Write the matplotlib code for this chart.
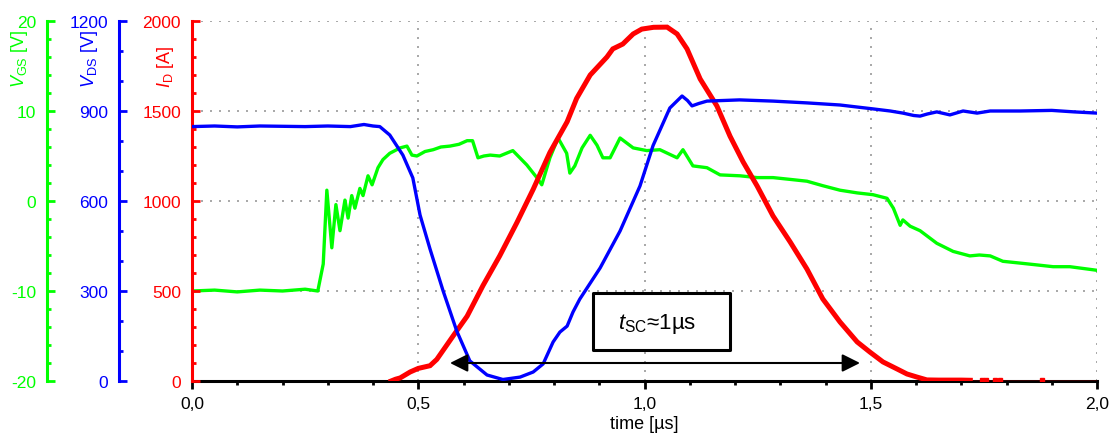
import matplotlib
matplotlib.use('Agg')
import matplotlib.pyplot as plt
from matplotlib.ticker import MultipleLocator, FuncFormatter
from matplotlib.patches import Rectangle

plt.rcParams['font.family'] = ['Liberation Sans', 'DejaVu Sans']
plt.rcParams['mathtext.fontset'] = 'custom'
plt.rcParams['mathtext.rm'] = 'Liberation Sans'
plt.rcParams['mathtext.it'] = 'Liberation Sans:italic'
plt.rcParams['mathtext.bf'] = 'Liberation Sans:bold'
plt.rcParams['axes.unicode_minus'] = False

# ---------------- data ----------------
# V_DS (blue)
t_ds = [0, 0.05, 0.1, 0.15, 0.2, 0.25, 0.3, 0.35, 0.38, 0.40, 0.415, 0.437, 0.466,
        0.488, 0.504, 0.526, 0.555, 0.585, 0.614, 0.652, 0.687, 0.725, 0.754, 0.776,
        0.798, 0.813, 0.829, 0.842, 0.857, 0.902, 0.946, 0.99, 1.019, 1.056, 1.083,
        1.095, 1.105, 1.12, 1.138, 1.21, 1.284, 1.359, 1.432, 1.505, 1.543, 1.571,
        1.595, 1.609, 1.625, 1.646, 1.675, 1.704, 1.735, 1.764, 1.83, 1.90, 1.95, 2.0]
v_ds = [848, 850, 847, 850, 849, 848, 850, 848, 855, 850, 848, 820, 753,
        677, 553, 440, 300, 167, 67, 20, 5, 13, 30, 57,
        130, 163, 183, 230, 273, 377, 500, 650, 785, 910, 950,
        935, 917, 925, 933, 937, 933, 927, 920, 907, 900, 893,
        885, 883, 890, 897, 887, 900, 893, 900, 900, 902, 897, 893]

# V_GS (green)
t_gs = [0, 0.05, 0.1, 0.15, 0.2, 0.25, 0.278, 0.29, 0.298, 0.309, 0.318, 0.327,
        0.338, 0.345, 0.353, 0.36, 0.371, 0.378, 0.389, 0.398, 0.411, 0.422, 0.437,
        0.46, 0.475, 0.486, 0.497, 0.515, 0.533, 0.55, 0.57, 0.59, 0.608, 0.62,
        0.632, 0.645, 0.659, 0.68, 0.709, 0.74, 0.762, 0.773, 0.791, 0.809, 0.828,
        0.835, 0.846, 0.862, 0.88, 0.895, 0.908, 0.924, 0.946, 0.975, 1.005, 1.034,
        1.072, 1.085, 1.107, 1.138, 1.167, 1.211, 1.249, 1.284, 1.322, 1.359, 1.394,
        1.432, 1.47, 1.505, 1.536, 1.55, 1.565, 1.571, 1.587, 1.609, 1.646, 1.682,
        1.719, 1.74, 1.764, 1.792, 1.83, 1.867, 1.903, 1.94, 2.0]
v_gs = [-10, -9.9, -10.1, -9.9, -10, -9.8, -10, -7, 1.2, -5.2, -0.4, -3.3,
        0.1, -1.9, 0.6, -0.8, 1.4, 0.6, 2.8, 1.8, 3.7, 4.6, 5.3,
        5.9, 6.1, 5.1, 5.0, 5.5, 5.7, 6.0, 6.1, 6.3, 6.7, 6.7,
        4.8, 5.0, 5.1, 5.0, 5.6, 4.0, 2.6, 1.8, 4.8, 7.0, 5.3,
        3.1, 3.9, 5.9, 7.3, 6.2, 4.8, 4.8, 7.0, 5.9, 5.6, 5.7,
        4.8, 5.7, 3.9, 3.7, 2.9, 2.8, 2.6, 2.6, 2.4, 2.2, 1.7,
        1.2, 0.9, 0.7, 0.3, -0.8, -2.7, -2.1, -2.8, -3.3, -4.7, -5.6,
        -6.1, -6.0, -6.1, -6.7, -6.9, -7.1, -7.3, -7.3, -7.7]

# I_D (red)
t_d = [0.44, 0.45, 0.46, 0.482, 0.50, 0.526, 0.541, 0.577, 0.608, 0.643, 0.68,
       0.718, 0.754, 0.791, 0.829, 0.85, 0.88, 0.917, 0.93, 0.952, 0.975, 0.994,
       1.02, 1.05, 1.072, 1.094, 1.123, 1.16, 1.189, 1.218, 1.249, 1.284, 1.322,
       1.359, 1.394, 1.432, 1.47, 1.498, 1.527, 1.558, 1.58, 1.602, 1.624, 1.65,
       1.70, 1.72]
i_d = [0, 10, 17, 50, 70, 85, 120, 250, 360, 530, 695,
       880, 1065, 1270, 1440, 1570, 1700, 1800, 1845, 1872, 1928, 1955,
       1965, 1966, 1928, 1845, 1678, 1528, 1360, 1217, 1083, 917, 772,
       622, 456, 328, 217, 161, 106, 67, 39, 22, 6, 5,
       5, 4]
t_tail = [1.72, 2.0]
i_tail = [0, 0]
t_blob = [1.745, 1.755, 1.775, 1.785, 1.878]
i_blob = [8, 8, 8, 8, 8]

x_ticks_fmt = lambda v, p: f"{v:.1f}".replace('.', ',')
box_text = r'$\mathit{t}_{\mathrm{SC}}$≈1µs'

# ---------------- figure ----------------
GREEN = '#00ff00'
BLUE = '#0000ff'
RED = '#ff0000'

W, H = 1111, 439
fig = plt.figure(figsize=(W / 100, H / 100), dpi=100)
L, R, T, Bt = 192, 1097, 22, 382
axg = fig.add_axes([L / W, 1 - Bt / H, (R - L) / W, (Bt - T) / H])
axr = axg.twinx()
axb = axg.twinx()

for a in (axr, axb):
    a.yaxis.tick_left()
    a.yaxis.set_label_position('left')
    a.spines['right'].set_visible(False)
    a.spines['top'].set_visible(False)
    a.spines['bottom'].set_visible(False)
    a.patch.set_visible(False)
axg.spines['top'].set_visible(False)
axg.spines['right'].set_visible(False)

axg.spines['left'].set_position(('axes', (47 - L) / (R - L)))
axb.spines['left'].set_position(('axes', (119 - L) / (R - L)))

for a, c in ((axg, GREEN), (axb, BLUE), (axr, RED)):
    a.spines['left'].set_color(c)
    a.spines['left'].set_linewidth(2.2)
    a.tick_params(axis='y', which='both', direction='in', colors=c, width=2,
                  pad=8, labelsize=12.5)
    a.tick_params(axis='y', which='major', length=6)
    a.tick_params(axis='y', which='minor', length=3)

axg.spines['bottom'].set_linewidth(2.2)
axg.spines['bottom'].set_color('black')

axg.set_xlim(0, 2.0)
axg.set_ylim(-20, 20)
axb.set_ylim(0, 1200)
axr.set_ylim(0, 2000)

axg.xaxis.set_major_locator(MultipleLocator(0.5))
axg.xaxis.set_minor_locator(MultipleLocator(0.1))
axg.xaxis.set_major_formatter(FuncFormatter(x_ticks_fmt))
axg.tick_params(axis='x', which='both', direction='out', width=2, colors='black',
                pad=5, labelsize=12.5)
axg.tick_params(axis='x', which='major', length=6)
axg.tick_params(axis='x', which='minor', length=3)

axg.yaxis.set_major_locator(MultipleLocator(10))
axg.yaxis.set_minor_locator(MultipleLocator(2))
axb.yaxis.set_major_locator(MultipleLocator(300))
axb.yaxis.set_minor_locator(MultipleLocator(100))
axr.yaxis.set_major_locator(MultipleLocator(500))
axr.yaxis.set_minor_locator(MultipleLocator(100))

axg.grid(True, which='major', color='#999999', linestyle=(0, (1.2, 4.2)), linewidth=1.2)

# traces
axg.plot(t_gs, v_gs, color=GREEN, lw=2.4, solid_joinstyle='round')
axr.plot(t_tail, i_tail, color=RED, lw=1.0)
axr.plot(t_d, i_d, color=RED, lw=3.6, solid_joinstyle='miter')
axr.plot(t_blob, i_blob, linestyle='none', marker='s', markersize=3.5, color=RED)
axb.plot(t_ds, v_ds, color=BLUE, lw=2.4, solid_joinstyle='round')

# annotation: arrow and box
axb.annotate('', xy=((450 - L) / (R - L), (Bt - 364) / (Bt - T)),
             xytext=((860 - L) / (R - L), (Bt - 364) / (Bt - T)),
             xycoords='axes fraction', textcoords='axes fraction',
             arrowprops=dict(arrowstyle='<|-|>,head_length=0.9,head_width=0.45',
                             mutation_scale=12, color='black', lw=1.5,
                             shrinkA=0, shrinkB=0))
box = Rectangle(((593 - L) / (R - L), (Bt - 351) / (Bt - T)),
                (730 - 593) / (R - L), (351 - 294) / (Bt - T),
                transform=axb.transAxes, facecolor='white', edgecolor='black',
                lw=2.2, joinstyle='round', zorder=5)
axb.add_patch(box)
axb.text((657 - L) / (R - L), (Bt - 324) / (Bt - T), box_text,
         transform=axb.transAxes, ha='center', va='center', fontsize=16, zorder=6)

# axis labels
fig.text(20 / W, 1 - 88 / H, r'$V_{\mathrm{GS}}$ [V]', rotation=90, color=GREEN,
         ha='center', va='bottom', fontsize=13)
fig.text(90 / W, 1 - 88 / H, r'$V_{\mathrm{DS}}$ [V]', rotation=90, color=BLUE,
         ha='center', va='bottom', fontsize=13)
fig.text(165 / W, 1 - 88 / H, r'$I_{\mathrm{D}}$ [A]', rotation=90, color=RED,
         ha='center', va='bottom', fontsize=13)
fig.text(644 / W, 1 - 425 / H, 'time [µs]', ha='center', va='center', fontsize=13)

fig.savefig('out.png', dpi=100)
